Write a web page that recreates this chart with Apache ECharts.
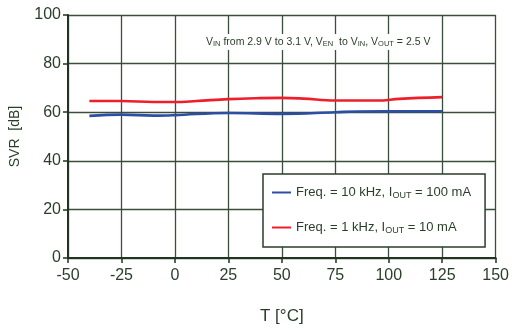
<!DOCTYPE html>
<html><head><meta charset="utf-8">
<script src="https://cdn.jsdelivr.net/npm/echarts@6/dist/echarts.min.js"></script>
<style>html,body{margin:0;padding:0;background:#fff}#c{width:512px;height:330px}</style>
</head><body><div id="c"></div>
<script>
const tempBlue = [-40, -25, -10, 0, 25, 50, 75, 85, 125];
const svrBlue = [58.5, 59.0, 58.6, 58.8, 59.7, 59.3, 60.0, 60.3, 60.4];
const tempRed = [-40, -25, -10, 0, 10, 25, 40, 50, 60, 75, 95, 105, 125];
const svrRed = [64.6, 64.6, 64.2, 64.2, 64.6, 65.4, 65.8, 65.9, 65.6, 64.8, 64.8, 65.5, 66.2];
const seriesNames = ['Freq. = 10 kHz, I_OUT = 100 mA', 'Freq. = 1 kHz, I_OUT = 10 mA'];
const xTicks = [-50, -25, 0, 25, 50, 75, 100, 125, 150];
const yTicks = [0, 20, 40, 60, 80, 100];

const FONT = '"Liberation Sans Narrow", "Liberation Sans", Arial, sans-serif';
const TXT = '#2a3f2a';
const GRID = '#3b4d3b';
const chart = echarts.init(document.getElementById('c'));
function pairs(xs, ys){ return xs.map((x,i)=>[x, ys[i]]); }
chart.setOption({
  animation: false,
  backgroundColor: '#fff',
  grid: {left: 67, right: 12, top: 15, bottom: 70},
  xAxis: {
    type: 'value', min: xTicks[0], max: xTicks[xTicks.length-1], interval: 25,
    name: 'T [°C]', nameLocation: 'middle', nameGap: 50,
    nameTextStyle: {color: TXT, fontFamily: FONT, fontSize: 17},
    axisLine: {show: true, onZero: false, lineStyle: {color: '#213321', width: 2}},
    axisTick: {show: true, length: 5, lineStyle: {color: '#213321', width: 1.5}},
    axisLabel: {color: TXT, fontFamily: FONT, fontSize: 16, margin: 10},
    splitLine: {show: true, lineStyle: {color: GRID, width: 1.3}}
  },
  yAxis: {
    type: 'value', min: yTicks[0], max: yTicks[yTicks.length-1], interval: 20,
    name: 'SVR  [dB]', nameLocation: 'middle', nameGap: 46, nameRotate: 90,
    nameTextStyle: {color: TXT, fontFamily: 'Liberation Sans, Arial, sans-serif', fontSize: 14},
    axisLine: {show: true, onZero: false, lineStyle: {color: '#213321', width: 2}},
    axisTick: {show: true, length: 5, lineStyle: {color: '#213321', width: 1.5}},
    axisLabel: {color: TXT, fontFamily: FONT, fontSize: 16, margin: 7},
    splitLine: {show: true, lineStyle: {color: GRID, width: 1.3}}
  },
  legend: {
    orient: 'vertical', left: 263, top: 174,
    padding: [12, 14, 12, 9], itemGap: 21,
    backgroundColor: '#fff', borderColor: '#2d3d2d', borderWidth: 1.5, borderRadius: 0,
    icon: 'rect', itemWidth: 19, itemHeight: 2,
    data: seriesNames,
    formatter: function(n){
      const p = n.split('I_OUT');
      return '{n|' + p[0] + 'I}{s|OUT}{n|' + p[1] + '}';
    },
    textStyle: {
      color: TXT,
      rich: {
        n: {fontFamily: FONT, fontSize: 13, color: TXT},
        s: {fontFamily: FONT, fontSize: 9, color: TXT, verticalAlign: 'bottom', padding: [6, 0, 0, 0]}
      }
    }
  },
  graphic: [{
    type: 'text', left: 203, top: 34, z: 10,
    style: {
      text: '{n|V}{s|IN}{n| from 2.9 V to 3.1 V, V}{s|EN}{n|  to V}{s|IN}{n|, V}{s|OUT}{n| = 2.5 V}',
      backgroundColor: '#fff', padding: [2, 3, 2, 3],
      rich: {
        n: {fontFamily: FONT, fontSize: 10.5, fill: TXT, color: TXT},
        s: {fontFamily: FONT, fontSize: 7.5, fill: TXT, color: TXT, verticalAlign: 'bottom', padding: [4, 0, 0, 0]}
      }
    }
  }],
  series: [
    {name: seriesNames[0], type: 'line', smooth: 0.4, showSymbol: false, symbol: 'none',
     color: '#2d4ea3', lineStyle: {width: 2.6, color: '#2d4ea3'}, data: pairs(tempBlue, svrBlue), z: 3},
    {name: seriesNames[1], type: 'line', smooth: 0.4, showSymbol: false, symbol: 'none',
     color: '#ee1f2b', lineStyle: {width: 2.6, color: '#ee1f2b'}, data: pairs(tempRed, svrRed), z: 3}
  ]
});
</script></body></html>
